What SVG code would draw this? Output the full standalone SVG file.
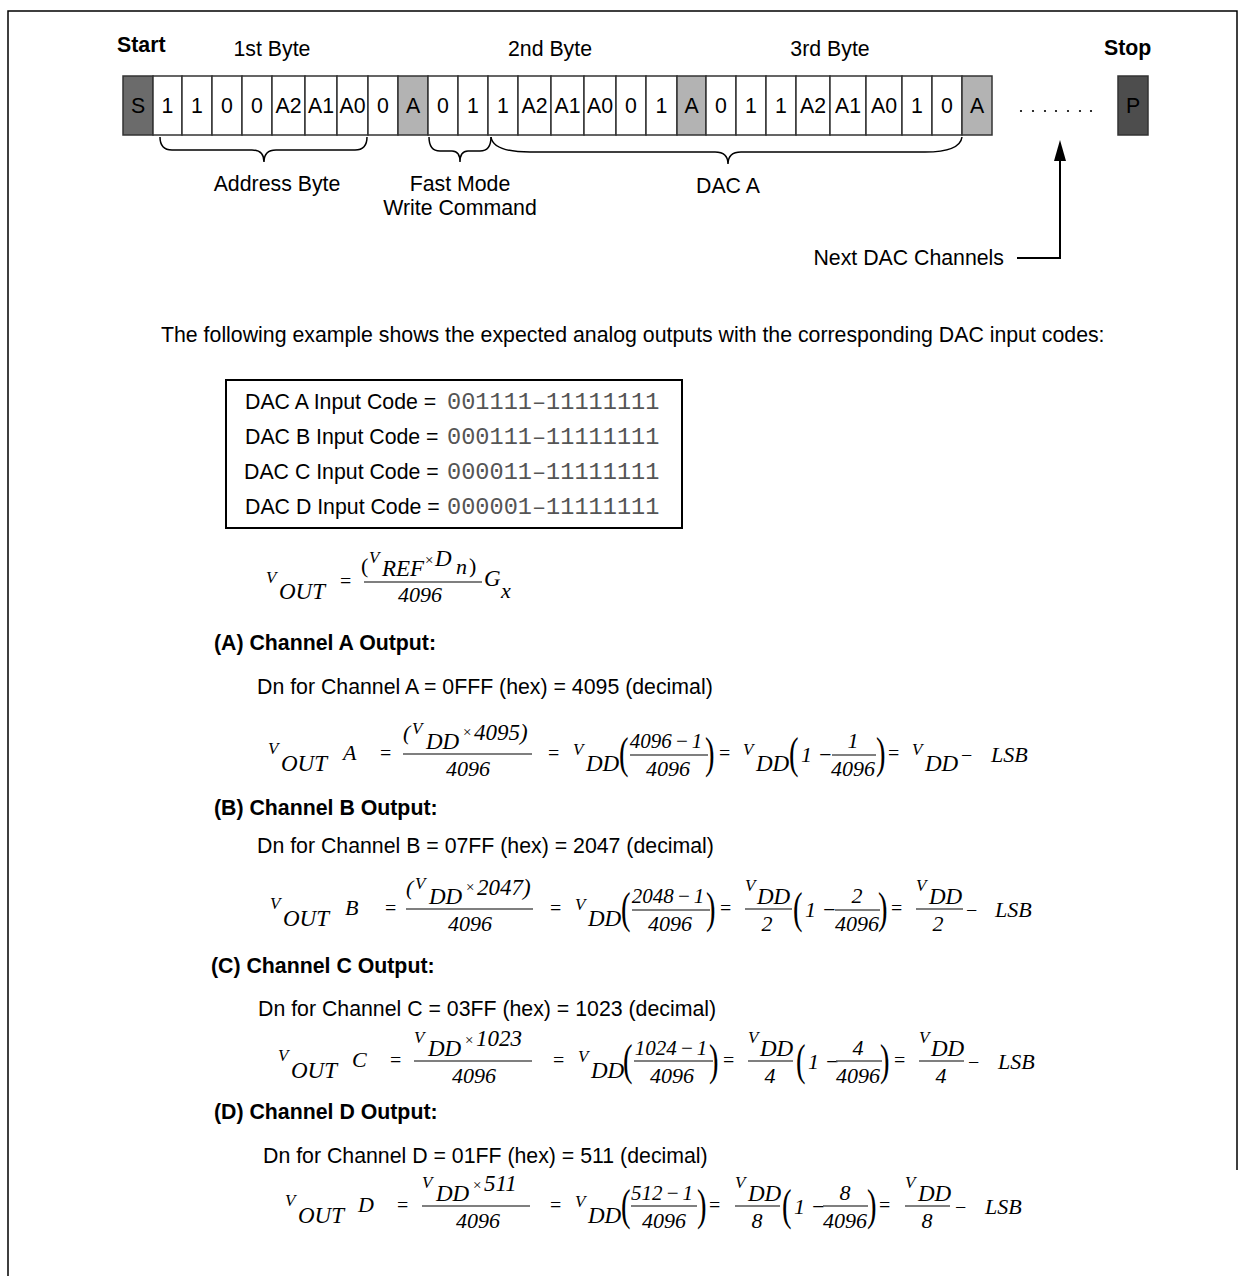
<svg xmlns="http://www.w3.org/2000/svg" width="1246" height="1276" viewBox="0 0 1246 1276">
<style>
.t{font-family:"Liberation Sans",Arial,sans-serif;font-size:21.3px;fill:#000}
.b{font-weight:bold}
.c{text-anchor:middle}
.mono{font-family:"Liberation Mono","DejaVu Sans Mono",monospace;font-size:23.6px;fill:#555}
.mi{font-family:"Liberation Serif","Times New Roman",serif;font-style:italic;font-size:22px;fill:#000}
.mn{font-family:"Liberation Serif","Times New Roman",serif;font-style:italic;font-size:21px;fill:#000;text-anchor:middle}
.mv{font-family:"Liberation Serif","Times New Roman",serif;font-style:italic;font-size:17px;fill:#000}
.mb{font-family:"Liberation Serif","Times New Roman",serif;font-style:italic;font-size:23px;fill:#000}
.mu{font-family:"Liberation Serif","Times New Roman",serif;font-size:20px;fill:#000}
.mx{font-family:"Liberation Serif","Times New Roman",serif;font-size:15px;fill:#000}
.mp{font-family:"Liberation Serif","Times New Roman",serif;font-size:44px;fill:#000}
.fl{stroke:#555;stroke-width:1.3}
.cell{fill:#fff;stroke:#333;stroke-width:1.5}
.ga{fill:#b3b3b3}
.gs{fill:#6b6b6b}
.gp{fill:#4d4d4d}
.br{fill:none;stroke:#000;stroke-width:1.5}
.ln{fill:none;stroke:#000;stroke-width:2}
</style>

<path d="M8,1276 V11 H1237 V1170" fill="none" stroke="#000" stroke-width="1.5"/>

<g id="labels-top">
<text class="t b" x="117" y="52">Start</text>
<text class="t c" x="272" y="56">1st Byte</text>
<text class="t c" x="550" y="56">2nd Byte</text>
<text class="t c" x="830" y="56">3rd Byte</text>
<text class="t b" x="1104" y="55">Stop</text>
</g>

<g id="bit-row">
<g id="bit-S"><rect class="cell gs" x="123" y="76" width="30" height="59"/><text class="t c" x="138" y="113">S</text></g>
<g id="bit-1a"><rect class="cell" x="153" y="76" width="29" height="59"/><text class="t c" x="167.5" y="113">1</text></g>
<g id="bit-1b"><rect class="cell" x="182" y="76" width="30" height="59"/><text class="t c" x="197" y="113">1</text></g>
<g id="bit-0a"><rect class="cell" x="212" y="76" width="30" height="59"/><text class="t c" x="227" y="113">0</text></g>
<g id="bit-0b"><rect class="cell" x="242" y="76" width="30" height="59"/><text class="t c" x="257" y="113">0</text></g>
<g id="bit-A2a"><rect class="cell" x="272" y="76" width="33" height="59"/><text class="t c" x="288.5" y="113">A2</text></g>
<g id="bit-A1a"><rect class="cell" x="305" y="76" width="32" height="59"/><text class="t c" x="321" y="113">A1</text></g>
<g id="bit-A0a"><rect class="cell" x="337" y="76" width="31" height="59"/><text class="t c" x="352.5" y="113">A0</text></g>
<g id="bit-RW"><rect class="cell" x="368" y="76" width="30" height="59"/><text class="t c" x="383" y="113">0</text></g>
<g id="bit-ACK1"><rect class="cell ga" x="398" y="76" width="30" height="59"/><text class="t c" x="413" y="113">A</text></g>
<g id="bit-c0"><rect class="cell" x="428" y="76" width="30" height="59"/><text class="t c" x="443" y="113">0</text></g>
<g id="bit-c1"><rect class="cell" x="458" y="76" width="30" height="59"/><text class="t c" x="473" y="113">1</text></g>
<g id="bit-b1"><rect class="cell" x="488" y="76" width="30" height="59"/><text class="t c" x="503" y="113">1</text></g>
<g id="bit-A2b"><rect class="cell" x="518" y="76" width="33" height="59"/><text class="t c" x="534.5" y="113">A2</text></g>
<g id="bit-A1b"><rect class="cell" x="551" y="76" width="33" height="59"/><text class="t c" x="567.5" y="113">A1</text></g>
<g id="bit-A0b"><rect class="cell" x="584" y="76" width="32" height="59"/><text class="t c" x="600" y="113">A0</text></g>
<g id="bit-b0"><rect class="cell" x="616" y="76" width="30" height="59"/><text class="t c" x="631" y="113">0</text></g>
<g id="bit-b1c"><rect class="cell" x="646" y="76" width="31" height="59"/><text class="t c" x="661.5" y="113">1</text></g>
<g id="bit-ACK2"><rect class="cell ga" x="677" y="76" width="29" height="59"/><text class="t c" x="691.5" y="113">A</text></g>
<g id="bit-d0"><rect class="cell" x="706" y="76" width="30" height="59"/><text class="t c" x="721" y="113">0</text></g>
<g id="bit-d1"><rect class="cell" x="736" y="76" width="30" height="59"/><text class="t c" x="751" y="113">1</text></g>
<g id="bit-d1b"><rect class="cell" x="766" y="76" width="30" height="59"/><text class="t c" x="781" y="113">1</text></g>
<g id="bit-A2c"><rect class="cell" x="796" y="76" width="34" height="59"/><text class="t c" x="813" y="113">A2</text></g>
<g id="bit-A1c"><rect class="cell" x="830" y="76" width="36" height="59"/><text class="t c" x="848" y="113">A1</text></g>
<g id="bit-A0c"><rect class="cell" x="866" y="76" width="36" height="59"/><text class="t c" x="884" y="113">A0</text></g>
<g id="bit-d1c"><rect class="cell" x="902" y="76" width="30" height="59"/><text class="t c" x="917" y="113">1</text></g>
<g id="bit-d0c"><rect class="cell" x="932" y="76" width="30" height="59"/><text class="t c" x="947" y="113">0</text></g>
<g id="bit-ACK3"><rect class="cell ga" x="962" y="76" width="30" height="59"/><text class="t c" x="977" y="113">A</text></g>
<g id="dots"><g fill="#000"><circle cx="1021" cy="111" r="1.1"/><circle cx="1033" cy="111" r="1.1"/><circle cx="1045" cy="111" r="1.1"/><circle cx="1056" cy="111" r="1.1"/><circle cx="1068" cy="111" r="1.1"/><circle cx="1080" cy="111" r="1.1"/><circle cx="1091" cy="111" r="1.1"/></g></g>
<g id="bit-P"><rect class="cell gp" x="1118" y="76" width="30" height="59"/><text class="t c" x="1133" y="113">P</text></g>
</g>

<g id="connectors">
<path class="br" d="M160,137 Q160,150 172,150 L252,150 Q264,150 264,162 Q264,150 276,150 L355,150 Q367,150 367,137"/>
<path class="br" d="M429,137 Q429,151 440,151 L452,151 Q460,151 460,162 Q460,151 468,151 L480,151 Q491,151 491,137"/>
<path class="br" d="M491,137 Q493,152 530,152 L715,152 Q728,152 728,164 Q728,152 741,152 L925,152 Q960,152 962,137"/>
<path class="ln" d="M1017,258 H1060 V158"/>
<polygon points="1060,140 1054,161 1066,161" fill="#000"/>
</g>

<g id="labels-brace">
<text class="t c" x="277" y="191">Address Byte</text>
<text class="t c" x="460" y="191">Fast Mode</text>
<text class="t c" x="460" y="215">Write Command</text>
<text class="t c" x="728" y="193">DAC A</text>
<text class="t" x="1004" y="265" text-anchor="end">Next DAC Channels</text>
</g>

<text class="t" x="161" y="342">The following example shows the expected analog outputs with the corresponding DAC input codes:</text>

<g id="code-box">
<rect x="226" y="380" width="456" height="148" fill="none" stroke="#000" stroke-width="2"/>
<text class="t" x="245" y="409">DAC A Input Code =</text><text class="mono" x="447" y="409">001111–11111111</text>
<text class="t" x="245" y="444">DAC B Input Code =</text><text class="mono" x="447" y="444">000111–11111111</text>
<text class="t" x="244" y="479">DAC C Input Code =</text><text class="mono" x="447" y="479">000011–11111111</text>
<text class="t" x="245" y="514">DAC D Input Code =</text><text class="mono" x="447" y="514">000001–11111111</text>
</g>

<g id="formula-general">
<text class="mv" x="266" y="583">V</text>
<text class="mb" x="279" y="599">OUT</text>
<text class="mu" x="340" y="588">=</text>
<text class="mu" x="361" y="573" style="font-size:22px">(</text>
<text class="mv" x="369" y="563">V</text>
<text class="mb" x="382" y="576">REF</text>
<text class="mx" x="425" y="565">×</text>
<text class="mb" x="435" y="566">D</text>
<text class="mi" x="456" y="574">n</text>
<text class="mu" x="469" y="573" style="font-size:22px">)</text>
<line class="fl" x1="364" y1="582" x2="482" y2="582"/>
<text class="mi c" x="420" y="602">4096</text>
<text class="mb" x="484" y="586">G</text>
<text class="mi" x="501" y="598">x</text>
</g>

<g id="channel-A">
<text class="t b" x="214" y="650">(A) Channel A Output:</text>
<text class="t" x="257" y="694">Dn for Channel A = 0FFF (hex) = 4095 (decimal)</text>
<text class="mv" x="268" y="754">V</text>
<text class="mb" x="281" y="771">OUT</text>
<text class="mi" x="343" y="760">A</text>
<text class="mu" x="380" y="760">=</text>
<text class="mi" x="403" y="740">(</text>
<text class="mv" x="412" y="734">V</text>
<text class="mb" x="426" y="749">DD</text>
<text class="mx" x="463" y="737">×</text>
<text class="mi" x="474" y="740" style="font-size:23px">4095)</text>
<line class="fl" x1="403" y1="754" x2="532" y2="754"/>
<text class="mi c" x="468" y="776">4096</text>
<text class="mu" x="548" y="760">=</text>
<text class="mv" x="573" y="755">V</text>
<text class="mb" x="586" y="771">DD</text>
<text class="mp" transform="translate(619,768) scale(0.65,1)">(</text>
<text class="mn" x="666" y="748">4096<tspan dx="3">−</tspan><tspan dx="3">1</tspan></text>
<line class="fl" x1="630" y1="755" x2="708" y2="755"/>
<text class="mi c" x="668" y="776">4096</text>
<text class="mp" transform="translate(705,768) scale(0.65,1)">)</text>
<text class="mu" x="719" y="760">=</text>
<text class="mv" x="743" y="755">V</text>
<text class="mb" x="756" y="771">DD</text>
<text class="mp" transform="translate(789,768) scale(0.65,1)">(</text>
<text class="mi" x="801" y="762">1 −</text>
<text class="mi c" x="853" y="748">1</text>
<line class="fl" x1="832" y1="755" x2="876" y2="755"/>
<text class="mi c" x="853" y="776">4096</text>
<text class="mp" transform="translate(876,768) scale(0.65,1)">)</text>
<text class="mu" x="888" y="760">=</text>
<text class="mv" x="912" y="755">V</text>
<text class="mb" x="925" y="771">DD</text>
<text class="mu" x="961" y="762">−</text>
<text class="mi" x="991" y="762">LSB</text>
</g>

<g id="channel-B">
<text class="t b" x="214" y="815">(B) Channel B Output:</text>
<text class="t" x="257" y="853">Dn for Channel B = 07FF (hex) = 2047 (decimal)</text>
<text class="mv" x="270" y="909">V</text>
<text class="mb" x="283" y="926">OUT</text>
<text class="mi" x="345" y="915">B</text>
<text class="mu" x="385" y="915">=</text>
<text class="mi" x="406" y="895">(</text>
<text class="mv" x="415" y="889">V</text>
<text class="mb" x="429" y="904">DD</text>
<text class="mx" x="466" y="892">×</text>
<text class="mi" x="477" y="895" style="font-size:23px">2047)</text>
<line class="fl" x1="406" y1="909" x2="533" y2="909"/>
<text class="mi c" x="470" y="931">4096</text>
<text class="mu" x="550" y="915">=</text>
<text class="mv" x="575" y="910">V</text>
<text class="mb" x="588" y="926">DD</text>
<text class="mp" transform="translate(621,923) scale(0.65,1)">(</text>
<text class="mn" x="668" y="903">2048<tspan dx="3">−</tspan><tspan dx="3">1</tspan></text>
<line class="fl" x1="632" y1="910" x2="710" y2="910"/>
<text class="mi c" x="670" y="931">4096</text>
<text class="mp" transform="translate(706,923) scale(0.65,1)">)</text>
<text class="mu" x="720" y="915">=</text>
<text class="mv" x="745" y="891">V</text>
<text class="mb" x="757" y="904">DD</text>
<line class="fl" x1="745" y1="909" x2="792" y2="909"/>
<text class="mi c" x="767" y="931">2</text>
<text class="mp" transform="translate(793,923) scale(0.65,1)">(</text>
<text class="mi" x="805" y="917">1 −</text>
<text class="mi c" x="857" y="903">2</text>
<line class="fl" x1="835" y1="910" x2="880" y2="910"/>
<text class="mi c" x="857" y="931">4096</text>
<text class="mp" transform="translate(878,923) scale(0.65,1)">)</text>
<text class="mu" x="891" y="915">=</text>
<text class="mv" x="916" y="891">V</text>
<text class="mb" x="929" y="904">DD</text>
<line class="fl" x1="916" y1="909" x2="963" y2="909"/>
<text class="mi c" x="938" y="931">2</text>
<text class="mu" x="966" y="917">−</text>
<text class="mi" x="995" y="917">LSB</text>
</g>

<g id="channel-C">
<text class="t b" x="211" y="973">(C) Channel C Output:</text>
<text class="t" x="258" y="1016">Dn for Channel C = 03FF (hex) = 1023 (decimal)</text>
<text class="mv" x="278" y="1061">V</text>
<text class="mb" x="291" y="1078">OUT</text>
<text class="mi" x="352" y="1067">C</text>
<text class="mu" x="390" y="1067">=</text>
<text class="mv" x="414" y="1043">V</text>
<text class="mb" x="428" y="1056">DD</text>
<text class="mx" x="465" y="1045">×</text>
<text class="mi" x="476" y="1046" style="font-size:23px">1023</text>
<line class="fl" x1="414" y1="1061" x2="532" y2="1061"/>
<text class="mi c" x="474" y="1083">4096</text>
<text class="mu" x="553" y="1067">=</text>
<text class="mv" x="578" y="1062">V</text>
<text class="mb" x="591" y="1078">DD</text>
<text class="mp" transform="translate(623,1075) scale(0.65,1)">(</text>
<text class="mn" x="671" y="1055">1024<tspan dx="3">−</tspan><tspan dx="3">1</tspan></text>
<line class="fl" x1="634" y1="1061" x2="713" y2="1061"/>
<text class="mi c" x="672" y="1083">4096</text>
<text class="mp" transform="translate(709,1075) scale(0.65,1)">)</text>
<text class="mu" x="723" y="1067">=</text>
<text class="mv" x="748" y="1043">V</text>
<text class="mb" x="760" y="1056">DD</text>
<line class="fl" x1="748" y1="1061" x2="793" y2="1061"/>
<text class="mi c" x="770" y="1083">4</text>
<text class="mp" transform="translate(796,1075) scale(0.65,1)">(</text>
<text class="mi" x="808" y="1069">1 −</text>
<text class="mi c" x="858" y="1055">4</text>
<line class="fl" x1="836" y1="1061" x2="882" y2="1061"/>
<text class="mi c" x="858" y="1083">4096</text>
<text class="mp" transform="translate(880,1075) scale(0.65,1)">)</text>
<text class="mu" x="894" y="1067">=</text>
<text class="mv" x="919" y="1043">V</text>
<text class="mb" x="931" y="1056">DD</text>
<line class="fl" x1="919" y1="1061" x2="964" y2="1061"/>
<text class="mi c" x="941" y="1083">4</text>
<text class="mu" x="968" y="1069">−</text>
<text class="mi" x="998" y="1069">LSB</text>
</g>

<g id="channel-D">
<text class="t b" x="214" y="1119">(D) Channel D Output:</text>
<text class="t" x="263" y="1163">Dn for Channel D = 01FF (hex) = 511 (decimal)</text>
<text class="mv" x="285" y="1206">V</text>
<text class="mb" x="298" y="1223">OUT</text>
<text class="mi" x="358" y="1212">D</text>
<text class="mu" x="397" y="1212">=</text>
<text class="mv" x="422" y="1188">V</text>
<text class="mb" x="436" y="1201">DD</text>
<text class="mx" x="473" y="1190">×</text>
<text class="mi" x="484" y="1191" style="font-size:23px">511</text>
<line class="fl" x1="422" y1="1206" x2="530" y2="1206"/>
<text class="mi c" x="478" y="1228">4096</text>
<text class="mu" x="550" y="1212">=</text>
<text class="mv" x="575" y="1207">V</text>
<text class="mb" x="588" y="1223">DD</text>
<text class="mp" transform="translate(621,1220) scale(0.65,1)">(</text>
<text class="mn" x="662" y="1200">512<tspan dx="3">−</tspan><tspan dx="3">1</tspan></text>
<line class="fl" x1="631" y1="1206" x2="697" y2="1206"/>
<text class="mi c" x="664" y="1228">4096</text>
<text class="mp" transform="translate(697,1220) scale(0.65,1)">)</text>
<text class="mu" x="709" y="1212">=</text>
<text class="mv" x="735" y="1188">V</text>
<text class="mb" x="748" y="1201">DD</text>
<line class="fl" x1="735" y1="1206" x2="780" y2="1206"/>
<text class="mi c" x="757" y="1228">8</text>
<text class="mp" transform="translate(782,1220) scale(0.65,1)">(</text>
<text class="mi" x="794" y="1214">1 −</text>
<text class="mi c" x="845" y="1200">8</text>
<line class="fl" x1="823" y1="1206" x2="868" y2="1206"/>
<text class="mi c" x="845" y="1228">4096</text>
<text class="mp" transform="translate(867,1220) scale(0.65,1)">)</text>
<text class="mu" x="879" y="1212">=</text>
<text class="mv" x="905" y="1188">V</text>
<text class="mb" x="918" y="1201">DD</text>
<line class="fl" x1="905" y1="1206" x2="950" y2="1206"/>
<text class="mi c" x="927" y="1228">8</text>
<text class="mu" x="955" y="1214">−</text>
<text class="mi" x="985" y="1214">LSB</text>
</g>
</svg>
